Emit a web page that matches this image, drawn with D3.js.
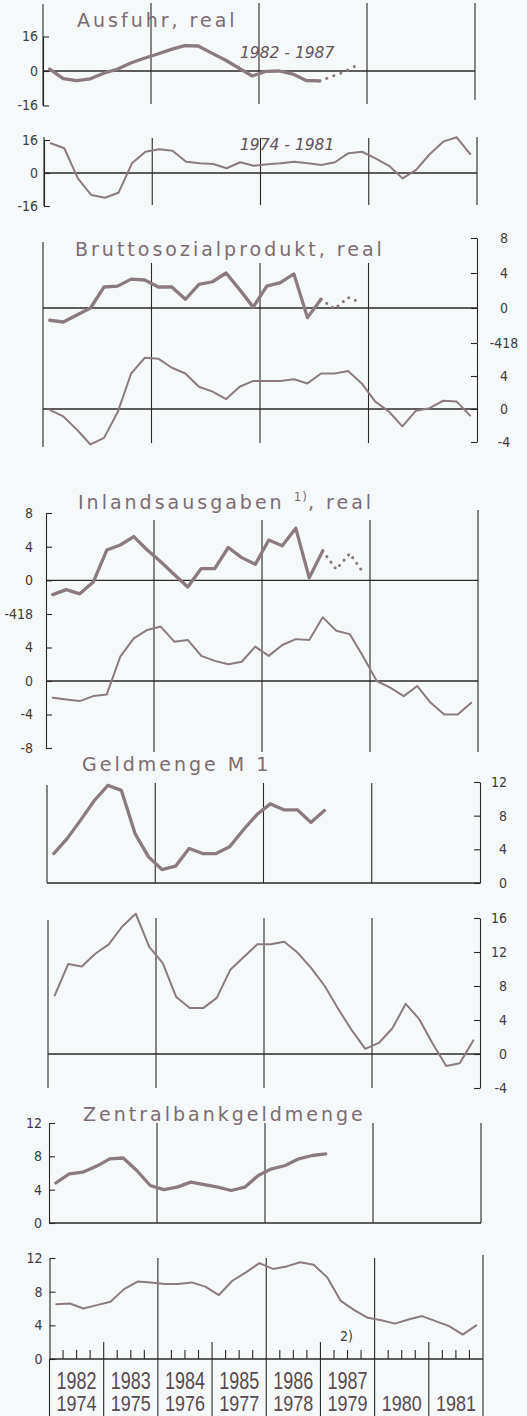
<!DOCTYPE html>
<html><head><meta charset="utf-8">
<script src="https://cdn.jsdelivr.net/npm/d3@7"></script>
<style>
body{margin:0;background:#f6f9fa;}
svg{display:block;}
</style>
</head><body>
<svg id="c" width="527" height="1416"></svg>
<script>
// ---------------- DATA (quarterly growth rates, %) ----------------
const yearsTop = ["1982","1983","1984","1985","1986","1987"];
const yearsBottom = ["1974","1975","1976","1977","1978","1979","1980","1981"];

const ausfuhr8287 = [0.9,-3.5,-4.5,-3.6,-1.0,0.8,3.7,5.9,7.9,10.0,11.8,11.6,8.3,5.1,1.4,-2.3,-0.2,0.0,-1.4,-4.4,-4.6];
const ausfuhrProj = [-4.6,-2.3,0.1,3.6];
const ausfuhr7481 = [14.4,12.0,-2.6,-10.7,-12.0,-9.6,4.7,10.3,11.5,10.8,5.5,4.7,4.4,2.3,5.2,3.5,4.2,4.7,5.5,4.7,3.9,5.2,9.6,10.3,7.1,3.5,-2.6,1.5,9.1,15.2,17.3,9.2];

const bsp8287 = [-1.4,-1.6,-0.8,0.0,2.4,2.5,3.3,3.2,2.4,2.4,1.0,2.7,3.0,4.0,2.1,0.1,2.5,2.9,3.9,-1.1,1.0];
const bspProj = [1.0,-0.1,1.2,0.6];
const bsp7481 = [-0.1,-0.9,-2.5,-4.3,-3.5,-0.4,4.3,6.2,6.1,5.0,4.3,2.7,2.1,1.2,2.7,3.4,3.4,3.4,3.6,3.1,4.3,4.3,4.6,3.1,0.9,-0.3,-2.1,-0.2,0.1,1.0,0.9,-0.8];

const inland8287 = [-1.7,-1.1,-1.6,-0.2,3.6,4.2,5.2,3.6,2.2,0.7,-0.8,1.4,1.4,3.9,2.7,1.9,4.8,4.1,6.2,0.3,3.5];
const inlandProj = [3.5,1.3,3.2,0.9];
const inland7481 = [-2.0,-2.2,-2.4,-1.8,-1.6,2.9,5.1,6.1,6.5,4.7,4.9,3.0,2.4,2.0,2.3,4.1,3.0,4.3,5.0,4.9,7.6,6.0,5.6,2.9,0.0,-0.8,-1.8,-0.6,-2.6,-4.0,-4.0,-2.6];

const m1_8287 = [3.5,5.3,7.5,9.8,11.6,11.0,5.9,3.1,1.6,2.0,4.1,3.5,3.5,4.3,6.3,8.1,9.4,8.7,8.7,7.2,8.6];
const m1_7481 = [6.9,10.6,10.3,11.8,12.9,15.0,16.5,12.6,10.7,6.7,5.4,5.4,6.6,9.9,11.4,12.9,12.9,13.2,11.9,10.1,8.0,5.3,2.8,0.6,1.3,3.0,5.9,4.1,1.2,-1.4,-1.1,1.6];

const zbg8287 = [4.8,5.9,6.1,6.8,7.7,7.8,6.3,4.5,4.0,4.3,4.9,4.6,4.3,3.9,4.3,5.7,6.5,6.9,7.7,8.1,8.3];
const zbg7481 = [6.5,6.6,6.0,6.4,6.8,8.3,9.2,9.1,8.9,8.9,9.1,8.6,7.6,9.3,10.3,11.4,10.7,11.0,11.5,11.2,9.7,6.9,5.8,4.9,4.6,4.2,4.7,5.1,4.5,3.9,2.9,4.0];

const ticksAusfuhr = [16,0,-16];
const ticksBspTop = [8,4,0,-4], ticksBspBot = [4,0,-4];
const ticksInlTop = [8,4,0,-4], ticksInlBot = [4,0,-4,-8];
const ticksM1Top = [12,8,4,0], ticksM1Bot = [16,12,8,4,0,-4];
const ticksZbg = [12,8,4,0];
const sharedLabel = "-418";

// ---------------- STYLE ----------------
const INK = "#2b2728", LINE = "#8b7b81", TITLE = "#7c6c72", LAB = "#3f3a3c", YEAR = "#574950";
const TICKFONT = "'DejaVu Sans Condensed','DejaVu Sans',sans-serif";
const svg = d3.select("#c");

function xScale(L, R, start){ return d3.scaleLinear().domain([start, start+8]).range([L, R]); }
function vline(x, y1, y2, w){ svg.append("line").attr("x1",x).attr("x2",x).attr("y1",y1).attr("y2",y2).attr("stroke",INK).attr("stroke-width",w||1.1); }
function hline(x1, x2, y, w){ svg.append("line").attr("x1",x1).attr("x2",x2).attr("y1",y).attr("y2",y).attr("stroke",INK).attr("stroke-width",w||1.3); }
function plot(x, y, start, vals, offset, w, dash){
  const line = d3.line().x((d,i)=>x(start + (i+offset+0.5)/4)).y(d=>y(d));
  svg.append("path").datum(vals).attr("d", line).attr("fill","none")
    .attr("stroke",LINE).attr("stroke-width",w).attr("stroke-linejoin","round")
    .attr("stroke-linecap","round").attr("stroke-dasharray", dash||null);
}
function grid(x, start, y1, y2, withRight, ry1, ry2){
  [2,4,6].forEach(k=>vline(x(start+k), y1, y2));
  if(withRight) vline(x(start+8), ry1===undefined?y1:ry1, ry2===undefined?y2:ry2);
}
function axis(gen, tx, y, vals, fmt, pad, anchor, lx){
  const g = svg.append("g").attr("transform",`translate(${tx},0)`)
    .call(gen(y).tickValues(vals).tickSizeInner(-6).tickSizeOuter(0).tickPadding(pad)
      .tickFormat(fmt || (d=>d)));
  g.attr("color",INK).attr("font-family",TICKFONT).attr("font-size",14);
  g.select(".domain").attr("stroke-width",1.1);
  g.selectAll(".tick line").attr("stroke-width",1.1);
  g.selectAll(".tick text").attr("fill",LAB);
  if(anchor) g.selectAll(".tick text").attr("text-anchor",anchor);
  if(lx!==undefined) g.selectAll(".tick text").attr("x",lx);
  return g;
}
function title(x, y, txt){
  return svg.append("text").attr("x",x).attr("y",y).attr("fill",TITLE)
    .attr("font-family","'DejaVu Sans',sans-serif").attr("font-size",19)
    .attr("letter-spacing",3).text(txt);
}
const sh = d => d===-4 ? sharedLabel : d;

// ---------------- PANEL A: Ausfuhr ----------------
{
  const x1 = xScale(43,475,1982), y1 = d3.scaleLinear().domain([-16,16]).range([105.5,36.5]);
  vline(43, 4, 105.5);
  axis(d3.axisLeft, 43, y1, ticksAusfuhr, null, 5);
  grid(x1, 1982, 3, 104, true, 3, 100);
  hline(43, 475, y1(0));
  title(77, 27, "Ausfuhr, real");
  svg.append("text").attr("x",240).attr("y",58).attr("fill","#5f5258").attr("font-style","italic")
    .attr("font-family","'DejaVu Sans',sans-serif").attr("font-size",15.5).text("1982 - 1987");
  plot(x1, y1, 1982, ausfuhr8287, 0, 3.3);
  plot(x1, y1, 1982, ausfuhrProj, 20, 3.2, "0 7.5");

  const x2 = xScale(44,477,1974), y2 = d3.scaleLinear().domain([-16,16]).range([206,140]);
  vline(44, 137, 206);
  axis(d3.axisLeft, 44, y2, ticksAusfuhr, null, 6);
  grid(x2, 1974, 138, 205, true, 137, 205);
  hline(44, 477, y2(0));
  svg.append("text").attr("x",240).attr("y",150).attr("fill","#5f5258").attr("font-style","italic")
    .attr("font-family","'DejaVu Sans',sans-serif").attr("font-size",15.5).text("1974 - 1981");
  plot(x2, y2, 1974, ausfuhr7481, 0, 2);
}

// ---------------- PANEL B: Bruttosozialprodukt ----------------
{
  const xt = xScale(43,477,1982), xb = xScale(43,477,1974);
  const yt = d3.scaleLinear().domain([-4,8]).range([343,238]);
  const yb = d3.scaleLinear().domain([-4,8]).range([442,343]);
  vline(43, 242, 447);
  grid(xt, 1982, 263, 443, false);
  axis(d3.axisRight, 477, yt, ticksBspTop, sh, 8, "middle", 27);
  axis(d3.axisRight, 477, yb, ticksBspBot, null, 8, "middle", 27);
  hline(43, 477, yt(0)); hline(43, 477, yb(0));
  title(75, 256, "Bruttosozialprodukt, real");
  plot(xt, yt, 1982, bsp8287, 0, 3.3);
  plot(xt, yt, 1982, bspProj, 20, 3.2, "0 7");
  plot(xb, yb, 1974, bsp7481, 0, 2);
}

// ---------------- PANEL C: Inlandsausgaben ----------------
{
  const xt = xScale(46,478,1982), xb = xScale(46,478,1974);
  const yt = d3.scaleLinear().domain([-4,8]).range([614,513]);
  const yb = d3.scaleLinear().domain([-8,8]).range([748,614]);
  axis(d3.axisLeft, 46, yt, ticksInlTop, sh, 13);
  axis(d3.axisLeft, 46, yb, ticksInlBot, null, 13);
  grid(xt, 1982, 520, 752, true, 510, 752);
  hline(46, 478, yt(0)); hline(46, 478, yb(0));
  const t = svg.append("text").attr("x",78).attr("y",509).attr("fill",TITLE)
    .attr("font-family","'DejaVu Sans',sans-serif").attr("font-size",19).attr("letter-spacing",3);
  t.append("tspan").text("Inlandsausgaben ");
  t.append("tspan").attr("font-size",12).attr("dy",-8).attr("letter-spacing",1).text("1)");
  t.append("tspan").attr("dy",8).text(", real");
  plot(xt, yt, 1982, inland8287, 0, 3.3);
  plot(xt, yt, 1982, inlandProj, 20, 3.2, "0 7");
  plot(xb, yb, 1974, inland7481, 0, 2);
}

// ---------------- PANEL D: Geldmenge M1 ----------------
{
  const xt = xScale(47,480,1982), yt = d3.scaleLinear().domain([0,12]).range([883,782]);
  vline(47, 785, 883);
  grid(xt, 1982, 783, 883, false);
  axis(d3.axisRight, 480, yt, ticksM1Top, null, 8, "end", 27);
  hline(47, 480, yt(0));
  title(82, 771, "Geldmenge M 1");
  plot(xt, yt, 1982, m1_8287, 0, 3.3);

  const xb = xScale(48,480,1974), yb = d3.scaleLinear().domain([-4,16]).range([1088,918]);
  vline(48, 920, 1088);
  grid(xb, 1974, 918, 1088, false);
  axis(d3.axisRight, 480, yb, ticksM1Bot, null, 8, "end", 27);
  hline(48, 480, yb(0));
  plot(xb, yb, 1974, m1_7481, 0, 2);
}

// ---------------- PANEL E: Zentralbankgeldmenge ----------------
{
  const xt = xScale(49,481,1982), yt = d3.scaleLinear().domain([0,12]).range([1223,1123]);
  axis(d3.axisLeft, 49, yt, ticksZbg, null, 7);
  grid(xt, 1982, 1123, 1223, true);
  hline(49, 481, yt(0));
  title(83, 1121, "Zentralbankgeldmenge");
  plot(xt, yt, 1982, zbg8287, 0, 3.3);

  const xb = xScale(49.5,483,1974), yb = d3.scaleLinear().domain([0,12]).range([1359,1258]);
  axis(d3.axisLeft, 49.5, yb, ticksZbg, null, 7);
  vline(49.5, 1359, 1416);
  [2,4,6].forEach(k=>vline(xb(1974+k), 1258, 1416));
  vline(xb(1982), 1255, 1416);
  [1,3,5,7].forEach(k=>vline(xb(1974+k), 1342, 1416));
  d3.range(0,32).filter(q=>q%4!==0).forEach(q=>vline(xb(1974+q/4), 1350, 1359));
  hline(49.5, 483, yb(0));
  plot(xb, yb, 1974, zbg7481, 0, 2);

  svg.append("text").attr("x",340).attr("y",1341).attr("fill",LAB)
    .attr("font-family",TICKFONT).attr("font-size",14).text("2)");

  const yf = "'Liberation Sans','DejaVu Sans',sans-serif";
  svg.append("g").selectAll("text").data(yearsTop).join("text")
    .attr("x",(d,i)=>xb(1974+i+0.5)).attr("y",1389).attr("text-anchor","middle")
    .attr("font-family",yf).attr("font-size",23).attr("fill",YEAR)
    .attr("textLength",40).attr("lengthAdjust","spacingAndGlyphs").text(d=>d);
  svg.append("g").selectAll("text").data(yearsBottom).join("text")
    .attr("x",(d,i)=>xb(1974+i+0.5)).attr("y",1411).attr("text-anchor","middle")
    .attr("font-family",yf).attr("font-size",21.5).attr("fill",YEAR)
    .attr("textLength",40).attr("lengthAdjust","spacingAndGlyphs").text(d=>d);
}
</script>
</body></html>
